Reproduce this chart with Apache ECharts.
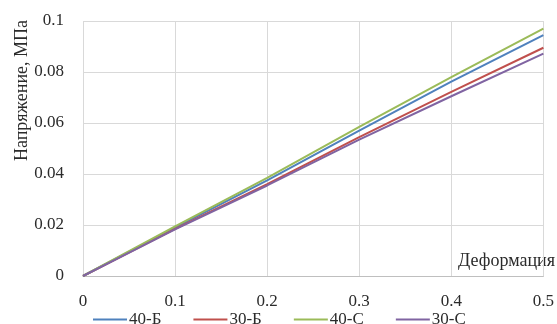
<!DOCTYPE html>
<html>
<head>
<meta charset="utf-8">
<script src="https://cdn.jsdelivr.net/npm/echarts@6/dist/echarts.min.js"></script>
<style>
  html, body { margin: 0; padding: 0; background: #fff; }
  #chart { width: 557px; height: 324px; }
</style>
</head>
<body>
<div id="chart"></div>
<script>
var strain = [0, 0.1, 0.2, 0.3, 0.4, 0.5];
var s40B = [0, 0.0190, 0.0375, 0.0570, 0.0762, 0.0945];
var s30B = [0, 0.0185, 0.0360, 0.0545, 0.0722, 0.0895];
var s40C = [0, 0.0195, 0.0385, 0.0585, 0.0780, 0.0970];
var s30C = [0, 0.0183, 0.0355, 0.0535, 0.0705, 0.0872];
var names = ['40-Б', '30-Б', '40-С', '30-С'];
var myColor = ['#4f81bd', '#c0504d', '#9bbb59', '#8064a2'];

var font = 'Liberation Serif';
var textColor = '#2b2b2b';

function pairs(ys) {
  return strain.map(function (x, i) { return [x, ys[i]]; });
}

var option = {
  animation: false,
  color: myColor,
  grid: { left: 83, right: 9, top: 21, bottom: 48 },
  xAxis: {
    type: 'value',
    min: 0, max: 0.5, interval: 0.1,
    axisLine: { show: true, lineStyle: { color: '#bfbfbf' } },
    axisTick: { show: false },
    splitLine: { show: true, lineStyle: { color: '#d9d9d9' } },
    axisLabel: { color: textColor, fontFamily: font, fontSize: 17, margin: 17,
      formatter: function (v) { return v === 0 ? '0' : String(+v.toFixed(1)); } }
  },
  yAxis: {
    type: 'value',
    min: 0, max: 0.1, interval: 0.02,
    axisLine: { show: false },
    axisTick: { show: false },
    splitLine: { show: true, lineStyle: { color: '#d9d9d9' } },
    axisLabel: { color: textColor, fontFamily: font, fontSize: 17, margin: 19,
      formatter: function (v) { return v === 0 ? '0' : String(+v.toFixed(2)); } }
  },
  legend: {
    data: names,
    left: 88, bottom: -9,
    itemWidth: 34, itemHeight: 2, itemGap: 32,
    icon: 'rect',
    textStyle: { fontFamily: font, fontSize: 17, color: textColor, padding: [0, 0, 0, -3] }
  },
  graphic: [
    { type: 'text', right: 2, top: 252,
      style: { text: 'Деформация', font: '18px "Liberation Serif"', fill: textColor } },
    { type: 'text', left: 13, top: 20, rotation: Math.PI / 2,
      style: { text: 'Напряжение, МПа', font: '18px "Liberation Serif"', fill: textColor } }
  ],
  series: [
    { name: names[0], type: 'line', data: pairs(s40B), showSymbol: false, lineStyle: { width: 2 } },
    { name: names[1], type: 'line', data: pairs(s30B), showSymbol: false, lineStyle: { width: 2 } },
    { name: names[2], type: 'line', data: pairs(s40C), showSymbol: false, lineStyle: { width: 2 } },
    { name: names[3], type: 'line', data: pairs(s30C), showSymbol: false, lineStyle: { width: 2 } }
  ]
};

var myChart = echarts.init(document.getElementById('chart'));
myChart.setOption(option);
</script>
</body>
</html>
